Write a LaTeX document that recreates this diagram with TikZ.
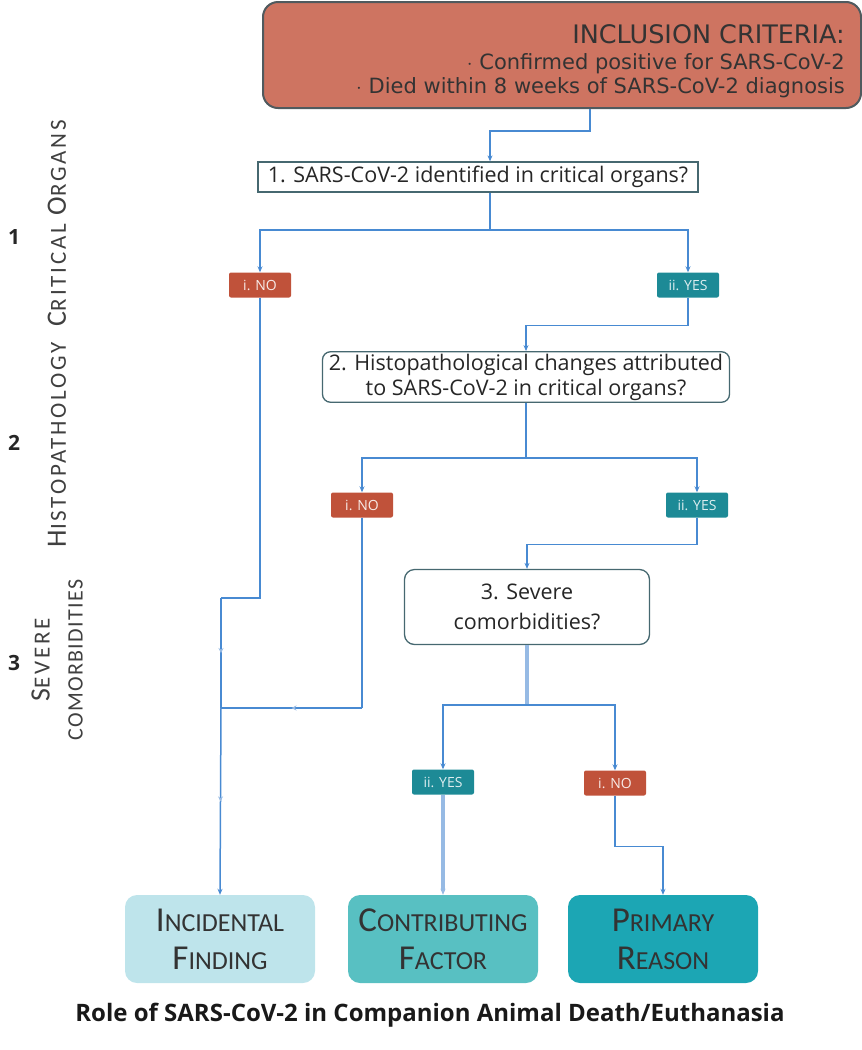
\documentclass[tikz,border=0pt]{standalone}
\usepackage{fontspec}
\setmainfont{Open Sans}
\newfontfamily\capfont{Carlito}
\newfontfamily\sidefont[LetterSpace=12]{Carlito}
\newfontfamily\critfont{DejaVu Sans}
\usetikzlibrary{arrows.meta,positioning,decorations.markings}

\definecolor{critfill}{RGB}{206,116,97}
\definecolor{critline}{RGB}{80,90,94}
\definecolor{nored}{RGB}{192,82,58}
\definecolor{yesteal}{RGB}{29,138,150}
\definecolor{flowblue}{RGB}{72,138,210}
\definecolor{flowpale}{RGB}{150,186,228}
\definecolor{qline}{RGB}{70,104,112}
\definecolor{incfill}{RGB}{190,228,235}
\definecolor{confill}{RGB}{88,192,194}
\definecolor{prifill}{RGB}{28,166,180}

% first letter large, rest in small capitals
\newcommand{\boxcap}[2]{{\fontsize{35}{38}\selectfont #1}{\fontsize{26}{38}\selectfont #2}}
\newcommand{\sidecap}[2]{{\fontsize{28}{33}\selectfont #1}{\fontsize{23}{33}\selectfont #2}}

\tikzset{
  flow/.style={draw=flowblue, line width=1.5pt, -{Stealth[length=6pt,width=5pt]}},
  paleflow/.style={draw=flowpale, line width=4pt, -{Stealth[length=6pt,width=5pt]}},
  midtip/.style={postaction=decorate, decoration={markings,
      mark=at position 0.5 with {\arrow[flowpale]{Stealth[length=5pt,width=5pt]}}}},
  question/.style={draw=qline, line width=1.3pt, fill=white, align=center, inner sep=2pt,
      text=black!85},
  nobox/.style={fill=nored, text=white!88!nored, minimum width=62pt, minimum height=25pt,
      rounded corners=2pt, inner sep=0pt, font=\fontsize{14}{16}\selectfont},
  yesbox/.style={nobox, fill=yesteal, text=white!85!yesteal},
  result/.style={minimum width=190pt, minimum height=88pt, rounded corners=12pt,
      align=center, text=black!80, font=\capfont\fontsize{26}{38}\selectfont},
  sidelabel/.style={rotate=90, align=center, text=black!75,
      font=\sidefont\fontsize{23}{33}\selectfont},
  numlabel/.style={font=\bfseries\fontsize{21}{24}\selectfont, text=black!85},
}

\begin{document}
\begin{tikzpicture}[x=1pt,y=-1pt]
\useasboundingbox (0,0) rectangle (862,1050);

% inclusion criteria
\node[draw=critline, line width=2pt, fill=critfill, rounded corners=15pt,
      minimum width=598pt, minimum height=106pt] (crit) at (562,55) {};
\node[anchor=north east, align=right, inner sep=0pt, text=black!80,
      font=\critfont\fontsize{21}{24}\selectfont]
      (crittext) at (845,24) {{\fontsize{25.5}{26}\selectfont INCLUSION CRITERIA:}\\[2pt]
      $\cdot$ Confirmed positive for SARS-CoV-2\\
      $\cdot$ Died within 8 weeks of SARS-CoV-2 diagnosis};

% questions
\node[question, font=\fontsize{21.5}{25}\selectfont, minimum width=440pt, minimum height=30pt]
      (q1) at (478,177) {1. SARS-CoV-2 identified in critical organs?};
\node[question, font=\fontsize{21.5}{25}\selectfont, rounded corners=8pt,
      minimum width=407pt, minimum height=50pt] (q2) at (526,377)
      {2. Histopathological changes attributed\\to SARS-CoV-2 in critical organs?};
\node[question, font=\fontsize{21.5}{30}\selectfont, rounded corners=10pt,
      minimum width=245pt, minimum height=75pt] (q3) at (527,607)
      {3. Severe\\comorbidities?};

% answers
\node[nobox]  (no1)  at (260,285) {i. NO};
\node[yesbox] (yes1) at (688,285) {ii. YES};
\node[nobox]  (no2)  at (362,505) {i. NO};
\node[yesbox] (yes2) at (697,505) {ii. YES};
\node[yesbox] (yes3) at (443,782) {ii. YES};
\node[nobox]  (no3)  at (615,783) {i. NO};

% outcomes
\node[result, fill=incfill] (incid) at (220,939) {\boxcap{I}{NCIDENTAL}\\\boxcap{F}{INDING}};
\node[result, fill=confill] (contr) at (443,939) {\boxcap{C}{ONTRIBUTING}\\\boxcap{F}{ACTOR}};
\node[result, fill=prifill] (prim)  at (663,939) {\boxcap{P}{RIMARY}\\\boxcap{R}{EASON}};

\node[font=\bfseries\fontsize{24}{28}\selectfont, text=black!90] (caption) at (430,1015)
      {Role of SARS-CoV-2 in Companion Animal Death/Euthanasia};

% side labels
\node[numlabel] (n1) at (14,237) {1};
\node[numlabel] (n2) at (14,443) {2};
\node[numlabel] (n3) at (14,663) {3};
\node[sidelabel] (organs) at (57,223) {\sidecap{C}{RITICAL}\hspace{9pt}\sidecap{O}{RGANS}};
\node[sidelabel] (histo)  at (57,445) {\sidecap{H}{ISTOPATHOLOGY}};
\node[sidelabel] (sev)    at (57,660) {\sidecap{S}{EVERE}\\
      {\addfontfeatures{LetterSpace=6}\fontsize{22}{33}\selectfont COMORBIDITIES}};

% connectors
\coordinate (split1) at (490,230);
\coordinate (split2) at (526,458);
\coordinate (split3) at (527,705);
\coordinate (bendA)  at (221,598);
\coordinate (turnB)  at (362,708);
\coordinate (merge)  at (221,708);

\draw[flow] ([xshift=28pt]crit.south) -- ++(0,22) -| ([xshift=12pt]q1.north);
\draw[flow,-] ([xshift=12pt]q1.south) -- (split1);
\draw[flow] (split1) -| (no1.north);
\draw[flow] (split1) -| (yes1.north);

\draw[flow] (yes1.south) -- ++(0,28) -| (q2.north);
\draw[flow,-] (q2.south) -- (split2);
\draw[flow] (split2) -| (no2.north);
\draw[flow] (split2) -| (yes2.north);

\draw[flow] (yes2.south) -- ++(0,27) -| (q3.north);
\draw[paleflow,-] (q3.south) -- (split3);
\draw[flow] (split3) -| (yes3.north);
\draw[flow] (split3) -| (no3.north);

\draw[paleflow] (yes3.south) -- (contr.north);
\draw[flow] (no3.south) -- ++(0,51) -| (prim.north);

\draw[flow,-] (no1.south) |- (bendA);
\draw[flow,-,midtip] (bendA) -- (merge);
\draw[flow,-] (no2.south) -- (turnB);
\draw[flow,-,midtip] (turnB) -- (merge);
\draw[flow,midtip] (merge) -- (incid.north);
\end{tikzpicture}
\end{document}
